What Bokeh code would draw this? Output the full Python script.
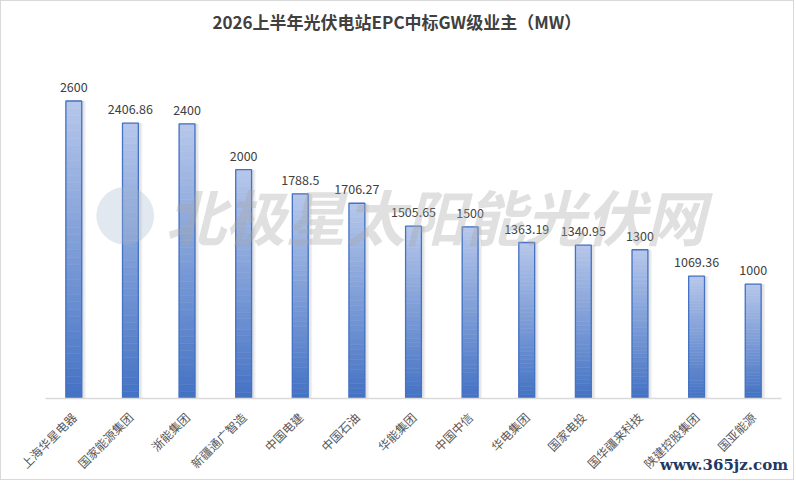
import numpy as np
from bokeh.plotting import figure
from bokeh.models import ColumnDataSource, FixedTicker, Range1d, Label
from bokeh.core.properties import value
from bokeh.embed import file_html
from bokeh.resources import INLINE

companies = ["上海华星电器", "国家能源集团", "浙能集团", "新疆通广智造", "中国电建", "中国石油",
             "华能集团", "中国中信", "华电集团", "国家电投", "国华疆来科技", "陕建控股集团", "国亚能源"]
capacity_mw = [2600, 2406.86, 2400, 2000, 1788.5, 1706.27, 1505.65, 1500, 1363.19, 1340.95, 1300, 1069.36, 1000]
value_labels = ["2600", "2406.86", "2400", "2000", "1788.5", "1706.27", "1505.65", "1500",
                "1363.19", "1340.95", "1300", "1069.36", "1000"]
title_text = "2026上半年光伏电站EPC中标GW级业主（MW）"
site_text = "www.365jz.com"

FONT = "Noto Sans CJK SC"
n = len(companies)
xs = list(range(n))

W, H = 794, 480
p = figure(width=W, height=H, output_backend="svg", toolbar_location=None,
           x_range=Range1d(-0.5, n - 0.5), y_range=Range1d(0, 3146),
           min_border_left=44, min_border_right=14, min_border_top=34, min_border_bottom=83)
p.title.text = title_text
p.title.align = "left"
p.title.offset = 167
p.title.text_font = FONT
p.title.text_font_size = "17px"
p.title.text_font_style = "bold"
p.title.text_color = "#404040"
p.outline_line_color = None
p.background_fill_color = "white"
p.border_fill_color = "white"
p.grid.visible = False
p.yaxis.visible = False
p.styles = {"border": "1px solid #d9d9d9"}

# shadow
p.vbar(x=[x + 0.06 for x in xs], top=capacity_mw, width=0.30, bottom=0,
       fill_color="#000000", fill_alpha=0.06, line_color=None)
p.vbar(x=[x + 0.04 for x in xs], top=capacity_mw, width=0.29, bottom=0,
       fill_color="#000000", fill_alpha=0.05, line_color=None)

# gradient bars (per-bar gradient: dark bottom -> light top)
top_c = np.array([182, 199, 234])
bot_c = np.array([68, 114, 196])
N = 40
gx, gb, gt, gc = [], [], [], []
for i, v in zip(xs, capacity_mw):
    for k in range(N):
        f = (k + 0.5) / N
        c = bot_c + (top_c - bot_c) * f
        gx.append(i)
        gb.append(v * k / N)
        gt.append(v * (k + 1) / N)
        gc.append("#%02x%02x%02x" % tuple(int(round(t)) for t in c))
p.vbar(x=gx, bottom=gb, top=gt, width=0.28, fill_color=gc, line_color=gc, line_width=0.5)
p.vbar(x=xs, top=capacity_mw, bottom=0, width=0.28, fill_color=None,
       line_color="#4472c4", line_width=1.3)

src = ColumnDataSource(dict(x=xs, y=capacity_mw, t=value_labels))
p.text(x="x", y="y", text="t", source=src, text_align="center", text_baseline="bottom",
       y_offset=-9, text_font=value(FONT), text_font_size="12.5px", text_color="#404040")

# watermarks
p.add_layout(Label(x=0.91, y=1630, text="●", text_font=FONT, text_font_size="64px",
                   text_color="#9fb3cc", text_alpha=0.3, text_align="center", text_baseline="middle"))
p.add_layout(Label(x=6.39, y=1612, text="北极星太阳能光伏网", text_font=FONT,
                   text_font_size="60px", text_font_style="bold italic",
                   text_color="#a6a6a6", text_alpha=0.35, text_align="center", text_baseline="middle"))

p.xaxis.ticker = FixedTicker(ticks=xs)
p.xaxis.major_label_overrides = {i: c for i, c in zip(xs, companies)}
p.xaxis.major_label_orientation = np.pi / 4
p.xaxis.major_label_text_font = FONT
p.xaxis.major_label_text_font_size = "12px"
p.xaxis.major_label_text_color = "#595959"
p.xaxis.major_tick_line_color = None
p.xaxis.minor_tick_line_color = None
p.xaxis.axis_line_color = "#d9d9d9"
p.xaxis.axis_line_width = 1.3
p.xaxis.major_label_standoff = 10

# site mark: centred on the frame's end, padded so the visible text ends at the frame edge
p.xaxis.axis_label = site_text + "\u00a0" * 22
p.xaxis.axis_label_align = "end"
p.xaxis.axis_label_standoff = -24
p.xaxis.axis_label_text_font = "DejaVu Serif"
p.xaxis.axis_label_text_font_size = "15px"
p.xaxis.axis_label_text_font_style = "bold"
p.xaxis.axis_label_text_color = "#1f3864"

open("out.html", "w").write(file_html(p, INLINE))
